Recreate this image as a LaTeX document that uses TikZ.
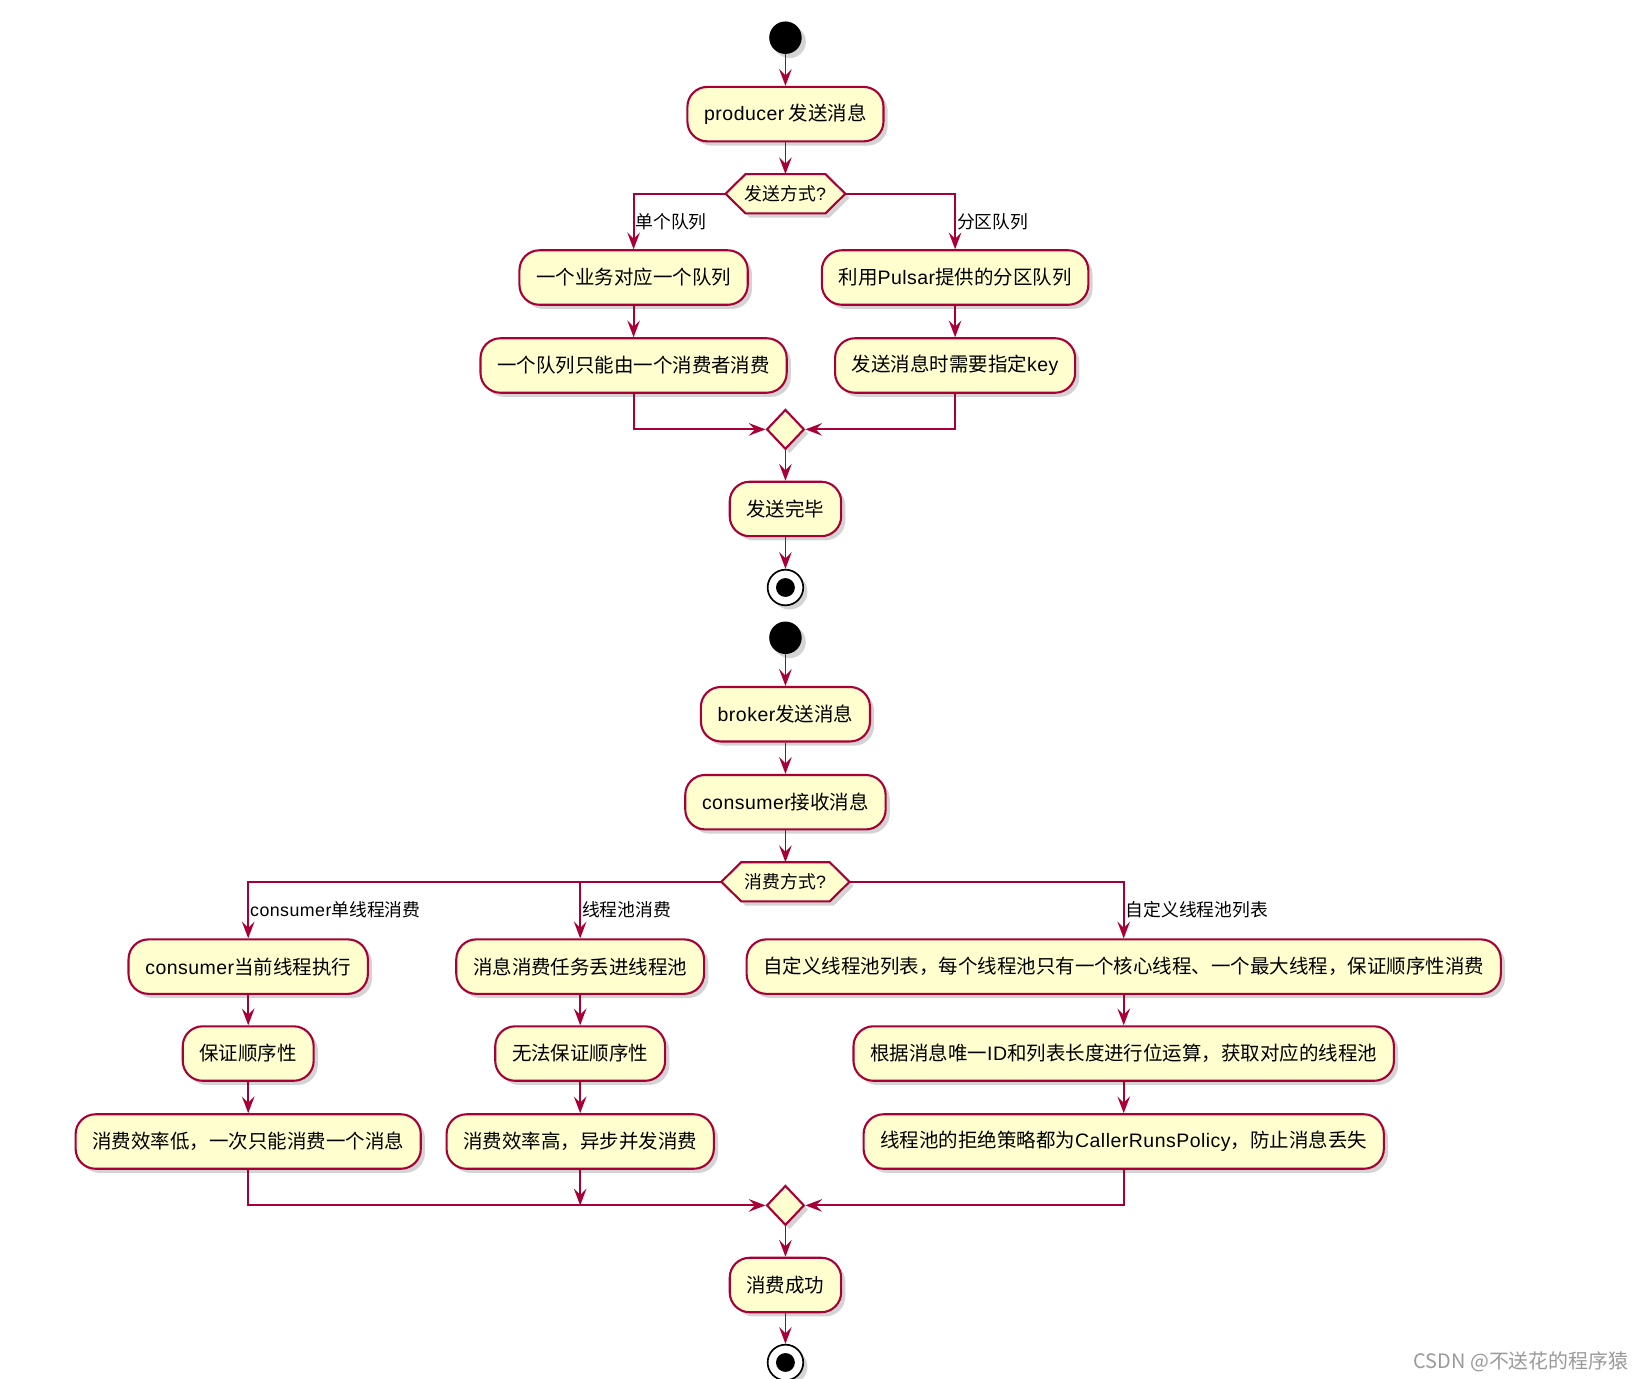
\documentclass[tikz,border=0pt]{standalone}
\usepackage{fontspec}
\setmainfont{Noto Sans CJK SC}
\newfontfamily\lat[LetterSpace=2.5]{Liberation Sans}
\usetikzlibrary{shapes.geometric,shadows,arrows.meta,calc}
\definecolor{pborder}{HTML}{A80036}
\definecolor{pfill}{HTML}{FEFECE}
\definecolor{wmark}{HTML}{9A9A9A}
\begin{document}
\begin{tikzpicture}[x=1pt,y=-1pt,
 shad/.style={drop shadow={shadow xshift=4pt,shadow yshift=-4pt,opacity=0.28,fill=black!60}},
 act/.style={draw=pborder,fill=pfill,line width=2pt,rounded corners=19pt,minimum height=52pt,inner xsep=16pt,font=\fontsize{18.6}{21}\selectfont,shad},
 arr/.style={draw=pborder,line width=1.8pt,-{Stealth[length=16pt,width=12pt,inset=6pt]}},
 lbl/.style={font=\fontsize{17}{19}\selectfont,inner sep=1pt,anchor=west},
 merge/.style={diamond,draw=pborder,fill=pfill,line width=2pt,minimum width=36pt,minimum height=38pt,inner sep=0pt,shad},
 startn/.style={circle,fill=black,minimum size=31pt,inner sep=0pt,shad},
 endn/.style={circle,draw=black,line width=1.6pt,fill=white,minimum size=34pt,inner sep=0pt,shad},
 hexbox/.style={minimum height=37pt,inner sep=0pt},
 hextxt/.style={font=\fontsize{17}{19}\selectfont,inner sep=0pt},
 hexshape/.style={draw=pborder,fill=pfill,line width=2pt,shad}]
\useasboundingbox[fill=white] (0,0) rectangle (1566,1316);

% ---------- top diagram ----------
\node[startn] (s1) at (750,36) {};
\node[act] (p1) at (750,109) {{\lat producer} 发送消息};
\node[hexbox,minimum width=114pt] (h1) at (750,185) {};
\path[hexshape] (h1.west) -- ($(h1.north west)+(19,0)$) -- ($(h1.north east)+(-19,0)$) -- (h1.east)
  -- ($(h1.south east)+(-19,0)$) -- ($(h1.south west)+(19,0)$) -- cycle;
\node[hextxt] (h1t) at (h1) {发送方式{\lat ?}};
\node[act] (l1) at (605,265) {一个业务对应一个队列};
\node[act] (l2) at (605,349) {一个队列只能由一个消费者消费};
\node[act] (r1) at (912,265) {利用{\lat Pulsar}提供的分区队列};
\node[act] (r2) at (912,349) {发送消息时需要指定{\lat key}};
\node[merge] (m1) at (750,410) {};
\node[act] (f1) at (750,486) {发送完毕};
\node[endn] (e1) at (750,561) {};
\fill[black] (e1) circle (9pt);

\draw[arr] (s1) -- (p1);
\draw[arr] (p1) -- (h1t |- h1.north);
\draw[arr] (h1.west) -| node[lbl,pos=0.75] {单个队列} (l1);
\draw[arr] (h1.east) -| node[lbl,pos=0.75] {分区队列} (r1);
\draw[arr] (l1) -- (l2);
\draw[arr] (r1) -- (r2);
\draw[arr] (l2) |- (m1);
\draw[arr] (r2) |- (m1);
\draw[arr] (m1) -- (f1);
\draw[arr] (f1) -- (e1);

% ---------- bottom diagram ----------
\node[startn] (s2) at (750,609) {};
\node[act] (b1) at (750,682) {{\lat broker}发送消息};
\node[act] (c1) at (750,766) {{\lat consumer}接收消息};
\node[hexbox,minimum width=122pt] (h2) at (750,842) {};
\path[hexshape] (h2.west) -- ($(h2.north west)+(19,0)$) -- ($(h2.north east)+(-19,0)$) -- (h2.east)
  -- ($(h2.south east)+(-19,0)$) -- ($(h2.south west)+(19,0)$) -- cycle;
\node[hextxt] (h2t) at (h2) {消费方式{\lat ?}};

\node[act] (a1) at (237,923) {{\lat consumer}当前线程执行};
\node[act] (a2) at (237,1006) {保证顺序性};
\node[act] (a3) at (237,1090) {消费效率低，一次只能消费一个消息};
\node[act] (d1) at (554,923) {消息消费任务丢进线程池};
\node[act] (d2) at (554,1006) {无法保证顺序性};
\node[act] (d3) at (554,1090) {消费效率高，异步并发消费};
\node[act] (g1) at (1073,923) {自定义线程池列表，每个线程池只有一个核心线程、一个最大线程，保证顺序性消费};
\node[act] (g2) at (1073,1006) {根据消息唯一{\lat ID}和列表长度进行位运算，获取对应的线程池};
\node[act] (g3) at (1073,1090) {线程池的拒绝策略都为{\lat CallerRunsPolicy}，防止消息丢失};
\node[merge] (m2) at (750,1151) {};
\node[act] (f2) at (750,1227) {消费成功};
\node[endn] (e2) at (750,1301) {};
\fill[black] (e2) circle (9pt);

\draw[arr] (s2) -- (b1);
\draw[arr] (b1) -- (c1);
\draw[arr] (c1) -- (h2t |- h2.north);
\draw[arr] (h2.west) -| node[lbl,pos=0.75] {{\lat consumer}单线程消费} (a1);
\draw[arr] (h2.west -| d1.north) -- node[lbl,pos=0.5] {线程池消费} (d1);
\draw[arr] (h2.east) -| node[lbl,pos=0.75] {自定义线程池列表} (g1);
\draw[arr] (a1) -- (a2);
\draw[arr] (a2) -- (a3);
\draw[arr] (d1) -- (d2);
\draw[arr] (d2) -- (d3);
\draw[arr] (g1) -- (g2);
\draw[arr] (g2) -- (g3);
\draw[arr] (a3) |- (m2);
\draw[arr] (g3) |- (m2);
\coordinate (dj) at (d3.south |- m2);
\draw[arr] (d3) -- (dj);
\draw[arr] (m2) -- (f2);
\draw[arr] (f2) -- (e2);

\node[anchor=east,text=wmark,font=\fontsize{19}{21}\selectfont,inner sep=0pt] (wm) at (1555,1300) {CSDN @不送花的程序猿};
\end{tikzpicture}
\end{document}
